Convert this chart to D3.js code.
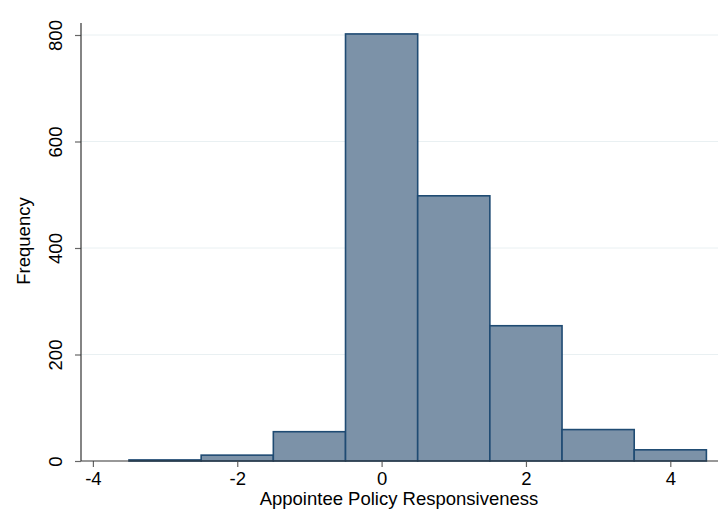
<!DOCTYPE html>
<html>
<head>
<meta charset="utf-8">
<script src="https://cdn.jsdelivr.net/npm/d3@7"></script>
<style>
  body { margin: 0; background: #fff; }
  svg { display: block; }
  text { font-family: "Liberation Sans", Arial, sans-serif; fill: #000; }
</style>
</head>
<body>
<svg id="chart" width="724" height="529"></svg>
<script>
// Histogram bins (left edge) and frequencies
const binStarts = [-3.5, -2.5, -1.5, -0.5, 0.5, 1.5, 2.5, 3.5];
const binWidth = 1;
const frequencies = [2, 11, 55, 802, 498, 254, 59, 21];
const xTicks = [-4, -2, 0, 2, 4];
const yTicks = [0, 200, 400, 600, 800];
const xTitle = "Appointee Policy Responsiveness";
const yTitle = "Frequency";

const svg = d3.select("#chart");
const plotLeft = 81, plotRight = 718, plotTop = 23, plotBottom = 461;
const fontSize = 18.5;

const x = d3.scaleLinear().domain([-4, 4]).range([92.9, 670.3]);
const y = d3.scaleLinear().domain([0, 800]).range([plotBottom, 35]);

// horizontal grid lines
svg.append("g").selectAll("line")
  .data(yTicks.filter(d => d > 0))
  .join("line")
  .attr("x1", plotLeft).attr("x2", plotRight)
  .attr("y1", d => y(d)).attr("y2", d => y(d))
  .attr("stroke", "#e9f0f2").attr("stroke-width", 1);

// bars
svg.append("g").selectAll("rect")
  .data(binStarts.map((s, i) => ({ s, v: frequencies[i] })))
  .join("rect")
  .attr("x", d => x(d.s))
  .attr("width", d => x(d.s + binWidth) - x(d.s))
  .attr("y", d => y(d.v))
  .attr("height", d => plotBottom - y(d.v))
  .attr("fill", "#7c92a8")
  .attr("stroke", "#1f4b73")
  .attr("stroke-width", 1.6);

// x axis
const xAxis = svg.append("g").attr("transform", `translate(0,${plotBottom})`)
  .call(d3.axisBottom(x).tickValues(xTicks).tickSize(6).tickPadding(5).tickFormat(d3.format("d")));
xAxis.select(".domain").remove();
xAxis.append("line").attr("x1", plotLeft).attr("x2", plotRight).attr("y1", 0).attr("y2", 0)
  .attr("stroke", "#333").attr("stroke-width", 1.2);
xAxis.selectAll(".tick line").attr("stroke", "#666").attr("stroke-width", 1.2);
xAxis.selectAll(".tick text").attr("font-size", fontSize).attr("fill", "#000")
  .text(d => d < 0 ? "-" + Math.abs(d) : d);

// y axis
const yAxis = svg.append("g").attr("transform", `translate(${plotLeft},0)`)
  .call(d3.axisLeft(y).tickValues(yTicks).tickSize(6).tickFormat(d3.format("d")));
yAxis.select(".domain").remove();
yAxis.append("line").attr("x1", 0).attr("x2", 0).attr("y1", plotTop).attr("y2", plotBottom)
  .attr("stroke", "#333").attr("stroke-width", 1.2);
yAxis.selectAll(".tick line").attr("stroke", "#666").attr("stroke-width", 1.2);
yAxis.selectAll(".tick text")
  .attr("font-size", fontSize).attr("fill", "#000")
  .attr("text-anchor", "middle")
  .attr("x", 0).attr("dy", 0)
  .attr("transform", "translate(-19,0) rotate(-90)");

// axis titles
svg.append("text")
  .attr("x", 399).attr("y", 505)
  .attr("text-anchor", "middle").attr("font-size", fontSize)
  .text(xTitle);

svg.append("text")
  .attr("transform", `translate(30,241) rotate(-90)`)
  .attr("text-anchor", "middle").attr("font-size", fontSize)
  .text(yTitle);
</script>
</body>
</html>
